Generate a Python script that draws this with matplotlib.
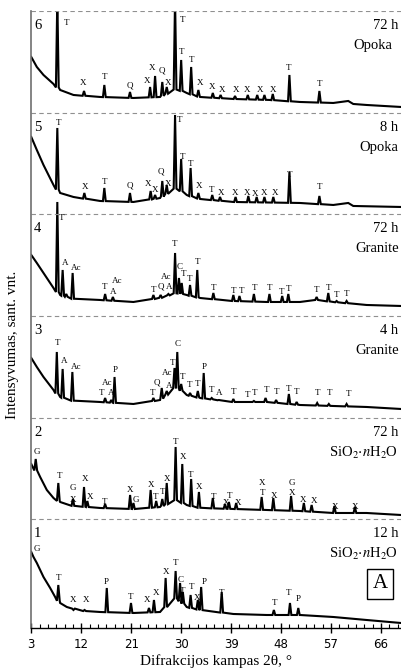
import numpy as np
import matplotlib
matplotlib.use('Agg')
from matplotlib import pyplot as plt

plt.rcParams['mathtext.fontset'] = 'stix'
SERIF = 'Liberation Serif'

# band offsets (arbitrary units), bottom pattern first
offsets = [0, 109, 210, 312, 414, 515]
y_top = 617

# ---- pattern 1 : 12 h, SiO2*nH2O
base1_x = [3.0, 3.4, 4.0, 5.2, 6.4, 7.3, 8.2, 9.4, 12.4, 15.4, 21.4, 26.2, 29.1, 31.0, 33.4, 39.4, 45.4, 51.4, 57.4, 63.4, 69.6]
base1_y = [76, 71, 65, 51, 40, 31, 25, 21, 17, 16, 15, 16, 30, 21, 18, 14, 13, 13, 11, 8, 5]
peak1_x = [7.87, 10.6, 12.6, 16.6, 20.96, 24.2, 25.1, 27.2, 29.0, 29.8, 30.3, 31.7, 33.0, 33.6, 37.3, 46.7, 49.6, 51.1]
peak1_y = [43, 18, 18, 40, 25, 20, 28, 50, 57, 45, 36, 33, 28, 41, 36, 18, 25, 20]
labels1 = [('G', 3.97, 79), ('T', 7.87, 50), ('X', 10.57, 28), ('X', 12.8, 28), ('P', 16.58, 46),
           ('T', 20.96, 31), ('X', 23.8, 28), ('X', 25.4, 35), ('X', 27.2, 56), ('T', 29.0, 65),
           ('C', 29.97, 48), ('T', 30.27, 37), ('T', 31.83, 41), ('X', 32.9, 30), ('P', 34.12, 46),
           ('T', 37.3, 35), ('T', 46.73, 25), ('T', 49.42, 35), ('P', 51.18, 29)]

# ---- pattern 2 : 72 h, SiO2*nH2O
base2_x = [3.0, 4.6, 5.8, 7.0, 8.2, 10.6, 15.4, 21.4, 26.2, 29.1, 31.0, 33.4, 39.4, 45.4, 51.4, 57.4, 63.4, 69.6]
base2_y = [55, 42, 29, 21, 17, 13, 11, 10, 12, 19, 14, 11, 10, 9, 8, 6, 6, 4]
peak2_x = [3.8, 7.87, 10.5, 12.5, 13.1, 16.3, 20.8, 21.4, 24.5, 25.5, 26.6, 27.4, 29.0, 30.2, 31.8, 33.2,
           35.7, 37.9, 38.6, 39.9, 44.5, 46.6, 49.8, 52.1, 53.5, 57.6, 61.3]
peak2_y = [60, 36, 20, 32, 18, 15, 24, 16, 29, 18, 20, 36, 72, 55, 40, 27,
           21, 15, 17, 16, 22, 21, 23, 16, 14, 13, 12]
labels2 = [('G', 3.97, 67), ('T', 8.05, 43), ('G', 10.57, 31), ('X', 10.45, 19), ('X', 12.68, 40),
           ('X', 13.58, 22), ('T', 16.28, 17), ('X', 20.78, 29), ('G', 21.86, 19), ('X', 24.51, 34),
           ('T', 25.47, 22), ('T', 26.61, 27), ('X', 27.39, 40), ('T', 29.01, 77), ('X', 30.39, 62),
           ('T', 31.77, 44), ('X', 33.27, 32), ('T', 35.8, 22), ('X', 38.02, 16), ('T', 38.8, 23),
           ('X', 40.3, 16), ('X', 44.63, 36), ('T', 44.63, 26), ('X', 46.73, 23), ('G', 49.92, 36),
           ('X', 49.92, 26), ('X', 52.02, 19), ('X', 53.94, 18), ('X', 57.72, 12), ('X', 61.32, 12)]

# ---- pattern 3 : 4 h, Granite
base3_x = [3.0, 4.0, 5.2, 7.0, 8.2, 10.6, 15.4, 21.4, 26.2, 29.1, 31.0, 33.4, 39.4, 45.4, 51.4, 57.4, 63.4, 69.6]
base3_y = [60, 51, 41, 28, 21, 17, 16, 14, 18, 31, 23, 20, 16, 16, 13, 12, 11, 9]
peak3_x = [7.6, 8.65, 10.4, 16.3, 17.4, 18.0, 25.0, 26.5, 27.4, 28.8, 29.3, 30.0, 31.6, 33.0, 34.06,
           35.5, 36.8, 39.4, 42.1, 43.1, 45.2, 47.1, 49.4, 50.8, 54.5, 56.6, 59.8]
peak3_y = [66, 49, 46, 20, 18, 41, 20, 30, 27, 50, 66, 34, 25, 27, 45,
           20, 18, 19, 16, 17, 20, 18, 24, 16, 15, 14, 14]
labels3 = [('T', 7.75, 75), ('A', 8.89, 57), ('Ac', 11.05, 51), ('Ac', 16.58, 35), ('T', 15.68, 25),
           ('A', 17.36, 25), ('P', 18.08, 48), ('T', 24.87, 25), ('Q', 25.71, 35), ('Ac', 27.39, 45),
           ('A', 27.87, 32), ('T', 28.47, 55), ('C', 29.43, 74), ('T', 30.27, 41), ('T', 31.59, 33),
           ('T', 33.03, 34), ('P', 34.18, 51), ('T', 35.44, 28), ('A', 36.82, 25), ('T', 39.4, 26),
           ('T', 41.93, 23), ('T', 43.25, 25), ('T', 45.41, 28), ('T', 47.09, 26), ('T', 49.38, 29),
           ('T', 50.82, 26), ('T', 54.6, 25), ('T', 56.7, 25), ('T', 60.12, 24)]

# ---- pattern 4 : 72 h, Granite
base4_x = [3.0, 4.0, 5.2, 7.0, 8.2, 10.6, 15.4, 21.4, 26.2, 29.1, 31.0, 33.4, 39.4, 45.4, 51.4, 54.4, 57.4, 63.4, 69.6]
base4_y = [61, 53, 43, 28, 21, 17, 16, 14, 18, 23, 21, 18, 15, 14, 14, 16, 14, 11, 10]
peak4_x = [7.69, 8.65, 9.3, 10.45, 16.3, 17.7, 25.0, 26.3, 27.7, 28.9, 29.6, 30.1, 31.6, 32.9,
           35.8, 39.4, 40.5, 43.1, 45.9, 48.2, 49.3, 54.4, 56.5, 58.0, 59.8]
peak4_y = [114, 46, 22, 43, 22, 19, 21, 21, 22, 63, 38, 33, 31, 46,
           23, 21, 20, 22, 22, 20, 22, 19, 23, 15, 15]
labels4 = [('T', 8.47, 98), ('A', 9.07, 53), ('Ac', 11.17, 48), ('T', 16.22, 29), ('Ac', 18.38, 35),
           ('A', 17.78, 24), ('T', 24.99, 26), ('Q', 26.31, 29), ('A', 27.81, 29), ('Ac', 27.27, 39),
           ('T', 28.89, 72), ('C', 29.79, 49), ('T', 30.45, 42), ('T', 31.59, 37), ('T', 32.91, 54),
           ('T', 35.92, 28), ('T', 39.4, 25), ('T', 40.9, 25), ('T', 43.13, 28), ('T', 45.89, 28),
           ('T', 48.11, 24), ('T', 49.38, 27), ('T', 54.42, 26), ('T', 56.52, 28), ('T', 58.02, 21),
           ('T', 59.82, 22)]

# ---- pattern 5 : 8 h, Opoka
base5_x = [3.0, 4.0, 5.2, 7.0, 8.2, 10.6, 15.4, 21.4, 26.2, 29.1, 31.0, 33.4, 39.4, 51.4, 57.4, 60.1, 61.0, 69.6]
base5_y = [77, 64, 49, 29, 21, 17, 13, 12, 16, 26, 19, 15, 12, 11, 9, 11, 8, 7]
peak5_x = [7.69, 12.56, 16.16, 20.78, 24.5, 25.3, 26.6, 27.4, 28.9, 30.0, 31.7, 33.1, 35.6, 37.0,
           39.8, 42.1, 43.6, 45.0, 46.6, 49.5, 54.9]
peak5_y = [86, 21, 26, 21, 23, 19, 33, 29, 99, 55, 46, 21, 19, 17, 17, 18, 17, 17, 17, 42, 18]
labels5 = [('T', 7.9, 91), ('X', 12.68, 27), ('T', 16.28, 32), ('Q', 20.78, 28), ('X', 23.97, 30),
           ('X', 25.35, 24), ('Q', 26.43, 42), ('X', 27.57, 30), ('T', 29.67, 94), ('T', 30.21, 57),
           ('T', 31.77, 50), ('X', 33.27, 28), ('T', 35.56, 24), ('X', 37.18, 21), ('X', 39.76, 21),
           ('X', 41.93, 21), ('X', 43.37, 20), ('X', 44.99, 21), ('X', 46.85, 21), ('T', 49.5, 39),
           ('T', 54.9, 27)]

# ---- pattern 6 : 72 h, Opoka
base6_x = [3.0, 4.0, 5.2, 7.0, 8.2, 10.6, 15.4, 21.4, 26.2, 29.1, 31.0, 33.4, 39.4, 46.0, 51.4, 57.4, 60.1, 61.0, 63.4, 69.6]
base6_y = [56, 46, 38, 29, 23, 18, 16, 15, 16, 24, 20, 16, 14, 13, 11, 10, 12, 9, 8, 6]
peak6_x = [7.69, 12.5, 16.16, 20.78, 24.4, 25.3, 26.6, 27.4, 28.9, 30.0, 31.8, 33.1, 35.7, 37.1,
           39.7, 42.0, 43.7, 45.0, 46.5, 49.5, 54.9]
peak6_y = [115, 22, 28, 21, 26, 37, 31, 26, 115, 53, 46, 23, 20, 18, 17, 18, 18, 18, 19, 38, 22]
labels6 = [('T', 9.37, 90), ('X', 12.38, 30), ('T', 16.16, 36), ('Q', 20.78, 27), ('X', 23.91, 32),
           ('X', 24.69, 45), ('Q', 26.61, 42), ('X', 27.69, 30), ('T', 30.21, 93), ('T', 30.09, 61),
           ('T', 31.89, 53), ('X', 33.4, 30), ('X', 35.62, 26), ('X', 37.3, 23), ('X', 39.82, 23),
           ('X', 41.93, 23), ('X', 44.15, 23), ('X', 46.61, 23), ('T', 49.38, 45), ('T', 54.9, 29)]

numbers = ['1', '2', '3', '4', '5', '6']
times = ['12 h', '72 h', '4 h', '72 h', '8 h', '72 h']
materials = [r'SiO$_2{\cdot}n$H$_2$O', r'SiO$_2{\cdot}n$H$_2$O', 'Granite', 'Granite', 'Opoka', 'Opoka']
material_x = [69.1, 69.1, 69.3, 69.3, 69.1, 68.0]

patterns = [
  (base1_x, base1_y, peak1_x, peak1_y, labels1),
  (base2_x, base2_y, peak2_x, peak2_y, labels2),
  (base3_x, base3_y, peak3_x, peak3_y, labels3),
  (base4_x, base4_y, peak4_x, peak4_y, labels4),
  (base5_x, base5_y, peak5_x, peak5_y, labels5),
  (base6_x, base6_y, peak6_x, peak6_y, labels6),
]


def build_curve(bx, by, px, py, w=0.25):
  xs, ys = [], []
  for x, y in zip(bx, by):
    if all(abs(x - p) > w for p in px):
      xs.append(x)
      ys.append(y)
  for p, h in zip(px, py):
    b = np.interp(p, bx, by)
    xs += [p - w, p, p + w]
    ys += [b, h, b]
  order = np.argsort(xs, kind='stable')
  return np.array(xs)[order], np.array(ys)[order]


fig = plt.figure(figsize=(4.01, 6.69), dpi=100)
ax = fig.add_axes([0.078, 0.0613, 0.922, 0.9223])

for i, (bx, by, px, py, labs) in enumerate(patterns):
  off = offsets[i]
  x, y = build_curve(bx, by, px, py)
  ax.plot(x, y + off, color='black', lw=1.5, solid_joinstyle='miter')
  for t, lx, ly in labs:
    ax.text(lx, ly + off, t, ha='center', va='center', fontsize=6.5, family=SERIF)

for i in range(6):
  band_top = offsets[i + 1] if i < 5 else y_top
  ax.axhline(band_top, color='#909090', lw=0.8, ls=(0, (4, 3)))
  ax.text(3.5, band_top - 15, numbers[i], ha='left', va='center', fontsize=10.5, family=SERIF)
  ax.text(69.1, band_top - 15, times[i], ha='right', va='center', fontsize=10.5, family=SERIF)
  ax.text(material_x[i], band_top - 35, materials[i], ha='right', va='center', fontsize=10.5, family=SERIF)

ax.text(65.8, 44, 'A', ha='center', va='center', fontsize=15, family=SERIF,
        bbox=dict(boxstyle='square,pad=0.25', fc='white', ec='black', lw=1))

ax.set_xlim(3, 69.6)
ax.set_ylim(0, y_top)
ax.set_xticks([3, 12, 21, 30, 39, 48, 57, 66])
ax.set_xticks(np.arange(3, 70, 1.5), minor=True)
ax.set_yticks([])
ax.tick_params(axis='x', which='major', direction='inout', length=7, width=1, pad=4, labelsize=8.5)
ax.tick_params(axis='x', which='minor', direction='in', length=3, width=0.8)
for s in ['top', 'right']:
  ax.spines[s].set_visible(False)
ax.spines['left'].set_color('#707070')
ax.spines['left'].set_linewidth(1.2)
ax.spines['bottom'].set_linewidth(1)

ax.set_xlabel('Difrakcijos kampas 2θ, °', family=SERIF, fontsize=11, labelpad=2)
fig.text(0.03, 0.484, 'Intensyvumas, sant. vnt.', rotation=90, ha='center', va='center',
         family=SERIF, fontsize=11)

plt.savefig('out.png', dpi=100)
